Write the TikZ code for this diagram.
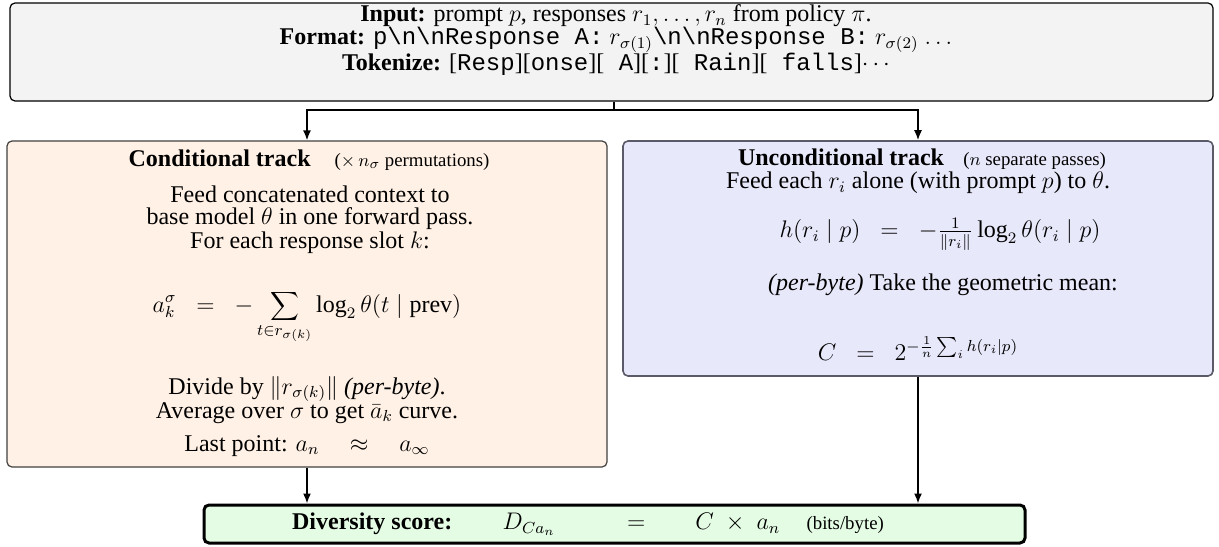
\documentclass[tikz,border=0pt]{standalone}
\usepackage{fontspec}
\setmainfont{Liberation Serif}
\setmonofont{Liberation Mono}
\usetikzlibrary{arrows.meta}
\definecolor{topfill}{HTML}{F3F3F3}
\definecolor{condfill}{HTML}{FFF1E5}
\definecolor{uncfill}{HTML}{E8E8FB}
\definecolor{divfill}{HTML}{E4FCE4}
\definecolor{edgegray}{HTML}{404040}
\definecolor{uncedge}{HTML}{5A5A68}
\newcommand{\smalltxt}[1]{{\fontsize{9.4}{11}\selectfont #1}}
\begin{document}
\begin{tikzpicture}[x=0.5pt,y=-0.5pt,
  box/.style={draw=edgegray,line width=0.6pt,rounded corners=2.5pt,inner sep=0pt},
  txt/.style={inner sep=0pt,font=\fontsize{12}{14}\selectfont},
  conn/.style={line width=0.8pt,-{Latex[length=5pt,width=4pt]}},
  link/.style={line width=0.8pt}]
\useasboundingbox (0,0) rectangle (1219,546);
% boxes
\node[box,draw=black,fill=topfill,minimum width=601.5pt,minimum height=49pt] (top) at (611.5,52) {};
\node[box,fill=condfill,minimum width=300pt,minimum height=163pt] (cond) at (307,304) {};
\node[box,draw=uncedge,line width=0.8pt,fill=uncfill,minimum width=295pt,minimum height=117.5pt] (unc) at (918,258.5) {};
\node[box,draw=black,line width=1.5pt,fill=divfill,minimum width=410.5pt,minimum height=19pt] (div) at (614.5,524) {};
% top text
\node[txt] (in) at (616,16) {\textbf{Input:} prompt $p$, responses $r_1,\ldots,r_n$ from policy $\pi$.};
\node[txt] (fmt) at (616,40) {\textbf{Format:} \texttt{p\textbackslash n\textbackslash nResponse A:} $r_{\sigma(1)}$\texttt{\textbackslash n\textbackslash nResponse B:} $r_{\sigma(2)}$ $\ldots$};
\node[txt] (tok) at (616,64) {\textbf{Tokenize:} [\texttt{Resp}][\texttt{onse}][\texttt{ A}][\texttt{:}][\texttt{ Rain}][\texttt{ falls}]$\cdots$};
% conditional text
\node[txt] (ct) at (309,160) {\textbf{Conditional track}\hspace{1em}\smalltxt{($\times\,n_\sigma$ permutations)}};
\node[txt] (c1) at (310,194) {Feed concatenated context to};
\node[txt] (c2) at (310,219) {base model $\theta$ in one forward pass.};
\node[txt] (c3) at (310,243) {For each response slot $k$:};
\node[txt,anchor=base] (c4) at (307,312) {$\displaystyle a_k^\sigma \;\;=\;\; -\sum_{t\in r_{\sigma(k)}} \log_2\theta(t\mid \mathrm{prev})$};
\node[txt] (c5) at (307,389) {Divide by $\|r_{\sigma(k)}\|$ \textit{(per-byte)}.};
\node[txt] (c6) at (307,413) {Average over $\sigma$ to get $\bar a_k$ curve.};
\node[txt] (c7) at (307,446) {Last point: $a_n \quad\approx\quad a_\infty$};
% unconditional text
\node[txt] (ut) at (922,159) {\textbf{Unconditional track}\hspace{0.8em}\smalltxt{($n$ separate passes)}};
\node[txt] (u1) at (918,183) {Feed each $r_i$ alone (with prompt $p$) to $\theta$.};
\node[txt] (u2) at (940,234) {$h(r_i\mid p) \;\;=\;\; -\frac{1}{\|r_i\|}\log_2\theta(r_i\mid p)$};
\node[txt] (u3) at (943,285) {\textit{(per-byte)} Take the geometric mean:};
\node[txt] (u4) at (918,349) {$C \;\;=\;\; 2^{-\frac{1}{n}\sum_i h(r_i|p)}$};
% diversity text
\node[txt] (dt) at (588,524) {\textbf{Diversity score:}\hspace{2.1em}$D_{Ca_n}\hspace{2.7em}=\hspace{1.8em}C\;\times\;a_n$\hspace{1.1em}\smalltxt{(bits/byte)}};
% connectors
\coordinate (split) at (614,110);
\draw[link] (top.south -| split) -- (split);
\draw[conn] (split) -| (cond.north);
\draw[conn] (split) -| (unc.north);
\draw[conn] (cond.south) -- (cond.south |- div.north);
\draw[conn] (unc.south) -- (unc.south |- div.north);
\end{tikzpicture}
\end{document}
